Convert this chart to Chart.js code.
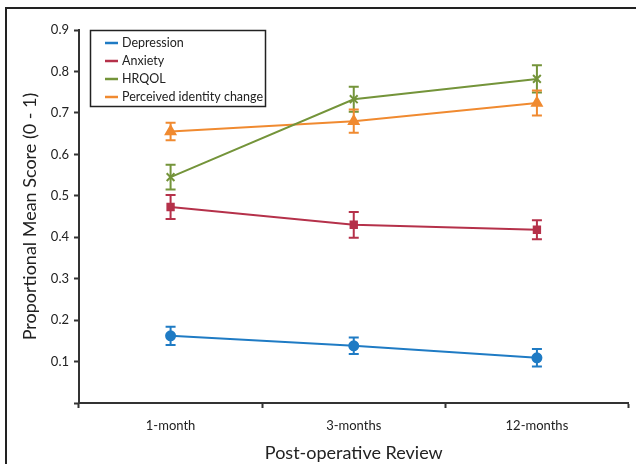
<!DOCTYPE html>
<html>
<head>
<meta charset="utf-8">
<script src="https://cdn.jsdelivr.net/npm/chart.js@4"></script>
<style>
	html, body { margin: 0; padding: 0; background: #fff; }
	#wrap { width: 636px; height: 464px; }
</style>
</head>
<body>
<div id="wrap"><canvas id="reviewChart" width="636" height="464"></canvas></div>
<script>
'use strict';

const reviews = ['1-month', '3-months', '12-months'];

const depression = [0.162, 0.138, 0.109];
const depressionErr = [0.022, 0.020, 0.021];

const anxiety = [0.473, 0.430, 0.418];
const anxietyErr = [0.029, 0.031, 0.023];

const hrqol = [0.545, 0.733, 0.782];
const hrqolErr = [0.030, 0.030, 0.033];

const identity = [0.655, 0.680, 0.724];
const identityErr = [0.021, 0.028, 0.030];

const yTicks = [0, 0.1, 0.2, 0.3, 0.4, 0.5, 0.6, 0.7, 0.8, 0.9];

const FONT = 'Lato, "Open Sans", sans-serif';

const makeSet = function (label, data, err, color, style, radius) {
	return {
		label: label,
		data: data,
		errors: err,
		borderColor: color,
		backgroundColor: color,
		borderWidth: 2,
		pointStyle: style,
		pointRadius: radius,
		pointHoverRadius: radius,
		pointBackgroundColor: color,
		pointBorderColor: color,
		pointBorderWidth: 2,
		tension: 0,
	};
};

// error bars drawn from each dataset's errors array
const errorBars = {
	id: 'errorBars',
	beforeDatasetsDraw(chart) {
		const ctx = chart.ctx;
		const y = chart.scales.y;
		chart.data.datasets.forEach((ds, i) => {
			const meta = chart.getDatasetMeta(i);
			meta.data.forEach((pt, j) => {
				const v = ds.data[j];
				const e = ds.errors[j];
				const top = y.getPixelForValue(v + e);
				const bot = y.getPixelForValue(v - e);
				ctx.save();
				ctx.strokeStyle = ds.borderColor;
				ctx.lineWidth = 2;
				ctx.beginPath();
				ctx.moveTo(pt.x, top);
				ctx.lineTo(pt.x, bot);
				ctx.moveTo(pt.x - 5, top);
				ctx.lineTo(pt.x + 5, top);
				ctx.moveTo(pt.x - 5, bot);
				ctx.lineTo(pt.x + 5, bot);
				ctx.stroke();
				ctx.restore();
			});
		});
	},
};

// boxed legend in the top left corner and outer frame
const boxLegend = {
	id: 'boxLegend',
	afterDraw(chart) {
		const ctx = chart.ctx;
		ctx.save();
		ctx.strokeStyle = '#222';
		ctx.lineWidth = 2;
		ctx.strokeRect(6, 8, 700, 600);

		ctx.lineWidth = 1.5;
		ctx.strokeRect(90.5, 30.5, 175, 76);
		ctx.font = '12.5px ' + FONT;
		ctx.textBaseline = 'middle';
		chart.data.datasets.forEach((ds, i) => {
			const cy = 43 + i * 18;
			ctx.strokeStyle = ds.borderColor;
			ctx.lineWidth = 2.5;
			ctx.beginPath();
			ctx.moveTo(105, cy);
			ctx.lineTo(118, cy);
			ctx.stroke();
			ctx.fillStyle = '#222';
			ctx.fillText(ds.label, 122, cy);
		});
		ctx.restore();
	},
};

const ctx = document.getElementById('reviewChart');

new Chart(ctx, {
	type: 'line',
	data: {
		labels: reviews,
		datasets: [
			makeSet('Depression', depression, depressionErr, '#1f7bc4', 'circle', 4.5),
			makeSet('Anxiety', anxiety, anxietyErr, '#b5314a', 'rect', 4.5),
			makeSet('HRQOL', hrqol, hrqolErr, '#74943a', 'crossRot', 5.5),
			makeSet('Perceived identity change', identity, identityErr, '#f08a30', 'triangle', 5.5),
		],
	},
	options: {
		responsive: false,
		animation: false,
		layout: {
			padding: { top: 30, right: 3, left: 0, bottom: 0 },
		},
		scales: {
			x: {
				offset: true,
				grid: {
					offset: true,
					drawOnChartArea: false,
					tickLength: 5,
					tickWidth: 2,
					tickColor: '#333',
				},
				border: { color: '#333', width: 2 },
				ticks: {
					color: '#222',
					padding: 10,
					font: { family: FONT, size: 13 },
				},
				title: {
					display: true,
					text: 'Post-operative Review',
					color: '#222',
					padding: 0,
					font: { family: FONT, size: 18 },
				},
				afterFit(scale) {
					scale.height = 61;
				},
			},
			y: {
				min: 0,
				max: 0.9,
				afterBuildTicks(scale) {
					scale.ticks = yTicks.map(v => ({ value: v }));
				},
				grid: {
					drawOnChartArea: false,
					tickLength: 5,
					tickWidth: 2,
					tickColor: '#333',
				},
				border: { color: '#333', width: 2 },
				ticks: {
					color: '#222',
					padding: 5,
					font: { family: FONT, size: 13 },
					callback: v => (v === 0 ? '' : v.toFixed(1)),
				},
				title: {
					display: true,
					text: 'Proportional Mean Score (0 - 1)',
					color: '#222',
					padding: { top: 19, bottom: 0 },
					font: { family: FONT, size: 18 },
				},
				afterFit(scale) {
					scale.width = 79;
				},
			},
		},
		plugins: {
			legend: { display: false },
			tooltip: { enabled: false },
		},
	},
	plugins: [errorBars, boxLegend],
});
</script>
</body>
</html>
